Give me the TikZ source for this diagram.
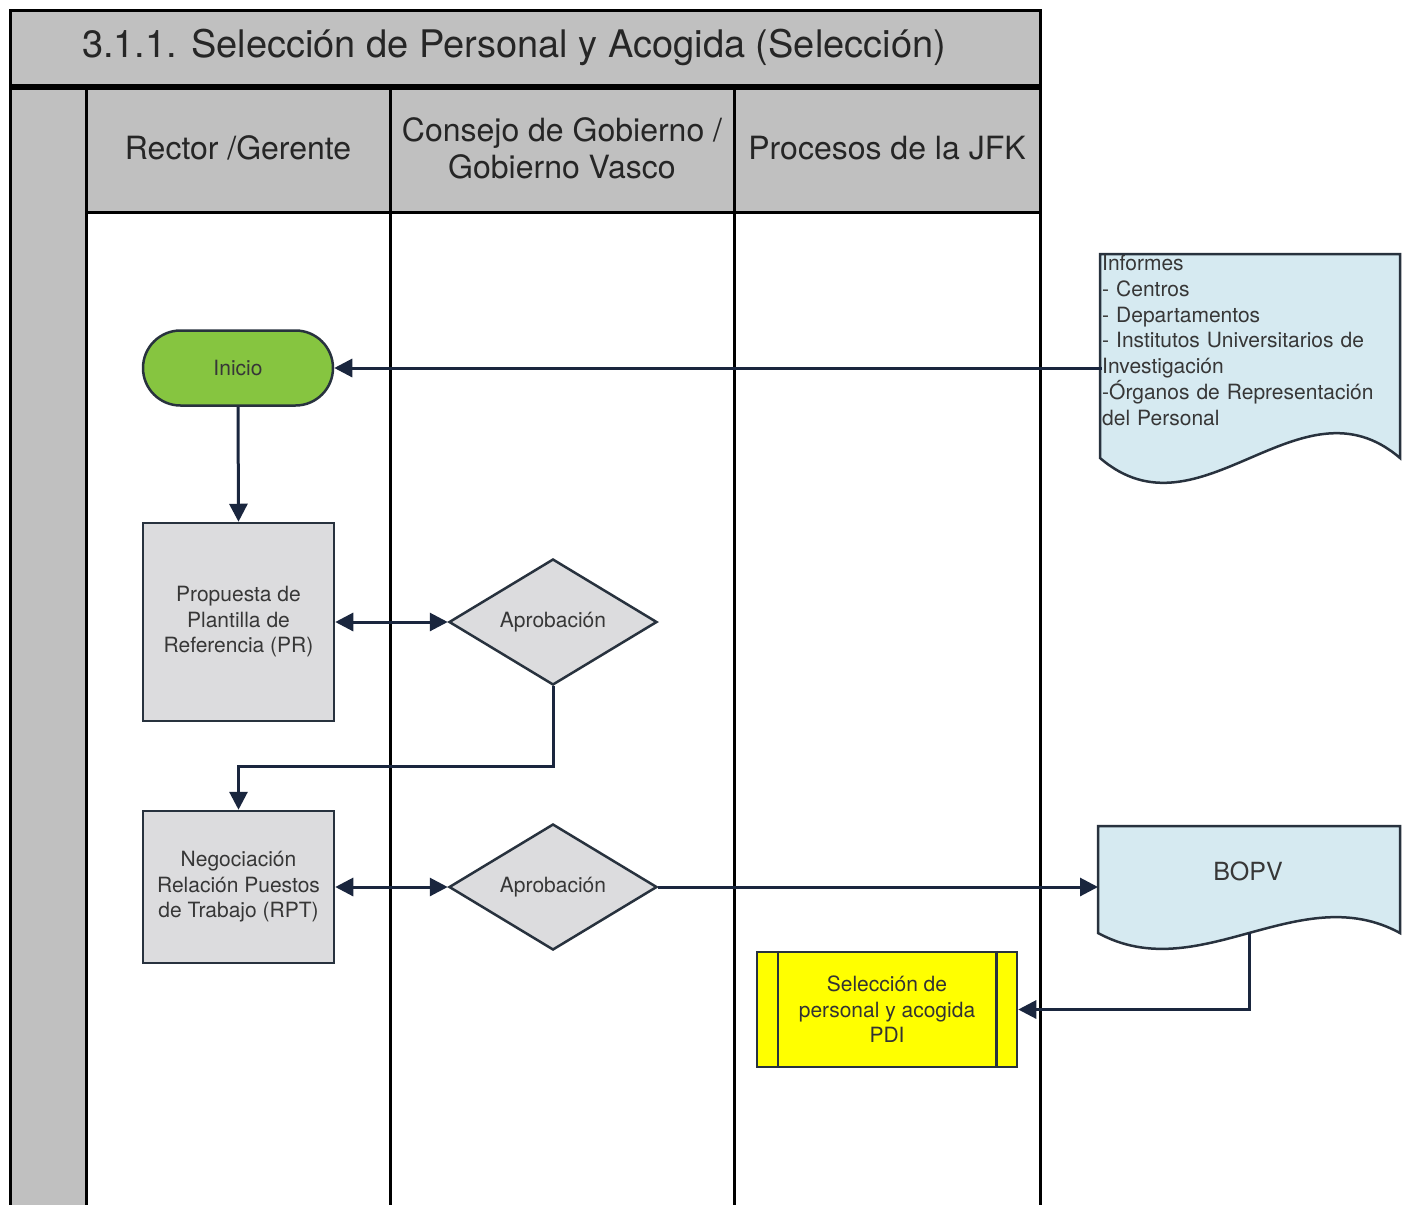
\documentclass[tikz,border=0pt]{standalone}
\usepackage{fontspec}
\setmainfont{TeX Gyre Heros}
\usetikzlibrary{arrows.meta,shapes.geometric,shapes.misc}
\definecolor{hdr}{RGB}{192,192,192}
\definecolor{boxgray}{RGB}{220,220,222}
\definecolor{startgreen}{RGB}{134,197,64}
\definecolor{docblue}{RGB}{214,234,241}
\definecolor{selyellow}{RGB}{255,255,0}
\definecolor{navy}{RGB}{26,38,62}
\definecolor{shapeline}{RGB}{40,50,62}
\definecolor{txt}{RGB}{55,55,55}
\tikzset{
  lane/.style={draw=black, line width=3pt},
  shapebox/.style={draw=shapeline, line width=2.5pt, inner sep=0pt, font=\fontsize{21}{25.5}\selectfont, text=txt, align=center},
  procbox/.style={shapebox, rectangle, fill=boxgray, minimum width=191, minimum height=198},
  decision/.style={shapebox, diamond, fill=boxgray, minimum width=208, minimum height=125},
  startnode/.style={shapebox, rounded rectangle, fill=startgreen, minimum width=190, minimum height=75},
  hdrtext/.style={font=\fontsize{32}{37}\selectfont, text=black!85, align=center},
  docline/.style={draw=shapeline, line width=2.5pt, fill=docblue},
  arr/.style={draw=navy, line width=3pt, -{Triangle[length=18pt,width=18pt]}},
  arrtwo/.style={draw=navy, line width=3pt, {Triangle[length=18pt,width=18pt]}-{Triangle[length=18pt,width=18pt]}}
}
\begin{document}
\begin{tikzpicture}[x=1pt,y=-1pt]
\useasboundingbox (0,0) rectangle (1403,1205);
\fill[white] (0,0) rectangle (1403,1205);
% title band
\fill[hdr] (10,10) rectangle (1040,85);
\draw[lane] (10,10) rectangle (1040,85);
\node[font=\fontsize{38}{44}\selectfont, text=black!85] (title) at (514,47) {3.1.1. Selección de Personal y Acogida (Selección)};
% left column and header row
\fill[hdr] (10,88) rectangle (86,1205);
\fill[hdr] (86,88) rectangle (1040,212);
\draw[lane] (10,88) -- (1040,88);
\draw[lane] (86,212) -- (1040,212);
\draw[lane] (10,10) -- (10,1205);
\draw[lane] (86,88) -- (86,1205);
\draw[lane] (390,88) -- (390,1205);
\draw[lane] (734,88) -- (734,1205);
\draw[lane] (1040,10) -- (1040,1205);
\node[hdrtext] (h1) at (238,148) {Rector /Gerente};
\node[hdrtext] (h2) at (562,148) {Consejo de Gobierno /\\Gobierno Vasco};
\node[hdrtext] (h3) at (887,148) {Procesos de la JFK};
% documents
\draw[docline] (1100,254) -- (1400,254) -- (1400,458) .. controls (1300,372) and (1200,544) .. (1100,458) -- cycle;
\node[anchor=north west, inner sep=0pt, text width=298, align=left, font=\fontsize{21}{25.8}\selectfont, text=txt] (inf) at (1102,255) {Informes\\- Centros\\- Departamentos\\- Institutos Universitarios de\\Investigación\\-Órganos de Representación\\del Personal};
\draw[docline] (1098,826) -- (1400,826) -- (1400,933) .. controls (1299,878) and (1199,988) .. (1098,933) -- cycle;
\node[inner sep=0pt, minimum width=302, minimum height=107, anchor=north west] (bopv) at (1098,826) {};
\node[font=\fontsize{25}{30}\selectfont, text=txt] (bopvt) at (1248,871) {BOPV};
% flow nodes
\node[startnode] (ini) at (238,368) {Inicio};
\node[procbox] (prop) at (238.5,622) {Propuesta de\\Plantilla de\\Referencia (PR)};
\node[decision] (apr1) at (553,622) {Aprobación};
\node[procbox, minimum height=152] (neg) at (238.5,887) {Negociación\\Relación Puestos\\de Trabajo (RPT)};
\node[decision] (apr2) at (553,887) {Aprobación};
\node[shapebox, rectangle, fill=selyellow, minimum width=260, minimum height=115, text=black!80] (sel) at (887,1009.5) {Selección de\\personal y acogida\\PDI};
\draw[shapeline, line width=2.5pt] ([xshift=22pt]sel.north west) -- ([xshift=22pt]sel.south west);
\draw[shapeline, line width=2.5pt] ([xshift=-22pt]sel.north east) -- ([xshift=-22pt]sel.south east);
% connectors
\draw[arr] (inf.west |- ini.east) -- (ini.east);
\draw[arr] (ini.south) -- (prop.north);
\draw[arrtwo] (prop.east) -- (apr1.west);
\draw[arr] (apr1.south) -- (apr1.south |- 0,766) -| (neg.north);
\draw[arrtwo] (neg.east) -- (apr2.west);
\draw[arr] (apr2.east) -- (bopv.west |- apr2.east);
\draw[arr] (bopv.south) |- (sel.east);
\end{tikzpicture}
\end{document}
